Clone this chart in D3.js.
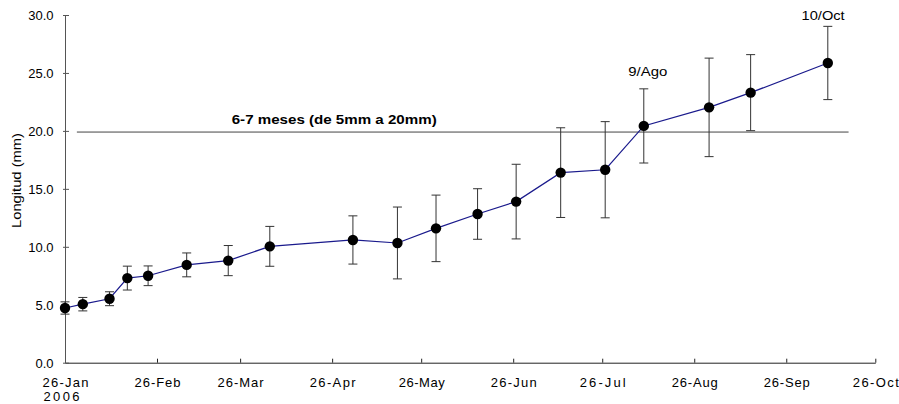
<!DOCTYPE html>
<html>
<head>
<meta charset="utf-8">
<script src="https://cdn.jsdelivr.net/npm/d3@7"></script>
<style>
  html, body { margin: 0; padding: 0; background: #fff; }
  svg { display: block; font-family: "Liberation Sans", Arial, Helvetica, sans-serif; }
</style>
</head>
<body>
<svg id="chart" width="899" height="404"></svg>
<script>
// Sampling dates (2006) and mean length with its standard deviation, in mm
const sampleDates = [
  "2006-01-26", "2006-02-01", "2006-02-10", "2006-02-16", "2006-02-23",
  "2006-03-08", "2006-03-22", "2006-04-05", "2006-05-03", "2006-05-18",
  "2006-05-31", "2006-06-14", "2006-06-27", "2006-07-12", "2006-07-27",
  "2006-08-09", "2006-08-31", "2006-09-14", "2006-10-10"
];
const meanLength = [
  4.72, 5.05, 5.52, 7.30, 7.50,
  8.44, 8.81, 10.04, 10.59, 10.33,
  11.59, 12.83, 13.90, 16.40, 16.65,
  20.43, 22.03, 23.30, 25.86
];
const stdDev = [
  0.53, 0.58, 0.60, 1.03, 0.85,
  1.03, 1.30, 1.72, 2.08, 3.10,
  2.87, 2.18, 3.22, 3.87, 4.15,
  3.20, 4.25, 3.28, 3.16
];

// Axis ticks
const xTickDates = [
  "2006-01-26", "2006-02-26", "2006-03-26", "2006-04-26", "2006-05-26",
  "2006-06-26", "2006-07-26", "2006-08-26", "2006-09-26", "2006-10-26"
];
const monthNames = ["Jan","Feb","Mar","Apr","May","Jun","Jul","Aug","Sep","Oct","Nov","Dec"];
const yTicks = [0, 5, 10, 15, 20, 25, 30];

// Reference line (20 mm target) and its caption
const targetValue = 19.9;
const targetSpan = ["2006-01-30", "2006-10-17"];
const targetCaption = "6-7 meses (de 5mm a 20mm)";

// Point annotations
const noteDates = ["2006-08-09", "2006-10-10"];
const noteTexts = ["9/Ago", "10/Oct"];

const parse = d3.utcParse("%Y-%m-%d");
const data = sampleDates.map((d, i) => ({ date: parse(d), mean: meanLength[i], sd: stdDev[i] }));

const svg = d3.select("#chart");
const margin = { left: 65, top: 15, right: 899 - 875.3, bottom: 404 - 362.7 };
const W = 899, H = 404;

const x = d3.scaleUtc()
  .domain([parse(xTickDates[0]), parse(xTickDates[xTickDates.length - 1])])
  .range([margin.left, W - margin.right]);
const y = d3.scaleLinear()
  .domain([0, 30])
  .range([H - margin.bottom, margin.top]);

const fmtDate = d => `${d.getUTCDate()}-${monthNames[d.getUTCMonth()]}`;

// X axis
const xAxis = svg.append("g")
  .attr("transform", `translate(0,${y(0)})`)
  .call(d3.axisBottom(x)
    .tickValues(xTickDates.map(parse))
    .tickFormat(fmtDate)
    .tickSizeInner(-4)
    .tickSizeOuter(0));
xAxis.select(".domain").attr("stroke", "#222");
xAxis.selectAll(".tick line").attr("stroke", "#222");
xAxis.selectAll(".tick text")
  .attr("y", 24.8).attr("dy", 0)
  .attr("font-size", 13).attr("fill", "#000")
  .attr("textLength", 46).attr("lengthAdjust", "spacing");
xAxis.selectAll(".tick").filter((d, i) => i === 0)
  .append("text")
  .attr("x", -4).attr("y", 38.5)
  .attr("text-anchor", "middle")
  .attr("font-size", 13).attr("fill", "#000")
  .attr("textLength", 36).attr("lengthAdjust", "spacing")
  .text(d3.utcFormat("%Y"));

// Y axis
const yAxis = svg.append("g")
  .attr("transform", `translate(${x.range()[0]},0)`)
  .call(d3.axisLeft(y)
    .tickValues(yTicks)
    .tickFormat(d3.format(".1f"))
    .tickSizeInner(-4)
    .tickSizeOuter(0)
    .tickPadding(11.5));
yAxis.select(".domain").attr("stroke", "#555");
yAxis.selectAll(".tick line").attr("stroke", "#555").attr("x1", -2);
yAxis.selectAll(".tick text")
  .attr("font-size", 13).attr("fill", "#000").attr("dy", "0.36em");

// Y axis title
svg.append("text")
  .attr("transform", `translate(21,180.5) rotate(-90)`)
  .attr("text-anchor", "middle")
  .attr("font-size", 13).attr("fill", "#000")
  .attr("textLength", 95).attr("lengthAdjust", "spacingAndGlyphs")
  .text("Longitud (mm)");

// Target line and caption
svg.append("line")
  .attr("x1", x(parse(targetSpan[0]))).attr("x2", x(parse(targetSpan[1])))
  .attr("y1", y(targetValue)).attr("y2", y(targetValue))
  .attr("stroke", "#444").attr("stroke-width", 1);
svg.append("text")
  .attr("x", 334.2).attr("y", y(targetValue) - 8)
  .attr("text-anchor", "middle")
  .attr("font-size", 13).attr("font-weight", "bold").attr("fill", "#000")
  .attr("textLength", 205).attr("lengthAdjust", "spacingAndGlyphs")
  .text(targetCaption);

// Error bars
const capHalf = 4.5;
const eb = svg.append("g").attr("stroke", "#333").attr("stroke-width", 1).attr("fill", "none");
data.forEach(d => {
  const cx = x(d.date), yt = y(d.mean + d.sd), yb = y(d.mean - d.sd);
  eb.append("line").attr("x1", cx).attr("x2", cx).attr("y1", yt).attr("y2", yb);
  eb.append("line").attr("x1", cx - capHalf).attr("x2", cx + capHalf).attr("y1", yt).attr("y2", yt);
  eb.append("line").attr("x1", cx - capHalf).attr("x2", cx + capHalf).attr("y1", yb).attr("y2", yb);
});

// Mean line
svg.append("path")
  .datum(data)
  .attr("fill", "none")
  .attr("stroke", "#1a1a8c")
  .attr("stroke-width", 1.2)
  .attr("d", d3.line().x(d => x(d.date)).y(d => y(d.mean)));

// Markers
svg.append("g").selectAll("circle")
  .data(data)
  .join("circle")
  .attr("cx", d => x(d.date))
  .attr("cy", d => y(d.mean))
  .attr("r", 5.2)
  .attr("fill", "#000");

// Annotations above selected points
const noteOffsets = [{ dx: 4, dy: -12.5, w: 39 }, { dx: -4.7, dy: -6, w: 43 }];
noteDates.forEach((nd, i) => {
  const d = data.find(p => +p.date === +parse(nd));
  svg.append("text")
    .attr("x", x(d.date) + noteOffsets[i].dx)
    .attr("y", y(d.mean + d.sd) + noteOffsets[i].dy)
    .attr("text-anchor", "middle")
    .attr("font-size", 13).attr("fill", "#000")
    .attr("textLength", noteOffsets[i].w).attr("lengthAdjust", "spacingAndGlyphs")
    .text(noteTexts[i]);
});
</script>
</body>
</html>
